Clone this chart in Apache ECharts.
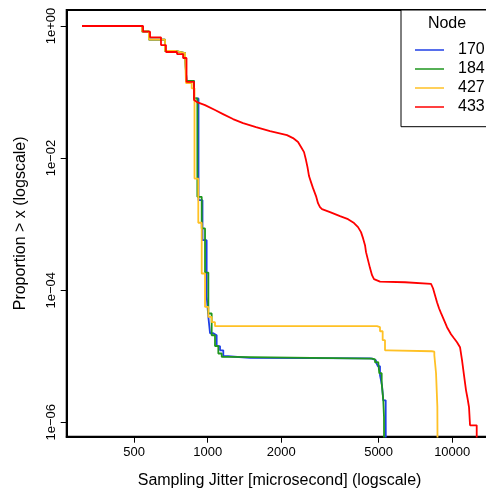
<!DOCTYPE html>
<html><head><meta charset="utf-8">
<script src="https://cdn.jsdelivr.net/npm/echarts@6/dist/echarts.min.js"></script>
<style>html,body{margin:0;padding:0;background:#fff}#c{width:486px;height:490px}</style>
</head><body><div id="c"></div>
<script>
const nodes = ['170','184','427','433'];
const colors = ['#1f3fe6','#1e961e','#ffc125','#ff0000'];
const xTicks = [500,1000,2000,5000,10000];
const yTicks = [1e-6,1e-4,1e-2,1];

const x170 = [306,539,575,669,742,808,819,879,917,952,990,1006,1022,1054,1088,1123,1158,1211,1489,4611,4699,4879,4970,5066,5162,5225,5345,5396];
const p170 = [1,0.825,0.624,0.418,0.390,0.351,0.147,0.0802,0.00231,0.000572,8.1e-5,3.94e-5,2.23e-5,2.08e-5,1.42e-5,1.23e-5,1.0e-5,9.42e-6,9.3e-6,9.2e-6,8.7e-6,8.11e-6,7.05e-6,5.15e-6,3.64e-6,2.15e-6,1.2e-6,1e-9];

const x184 = [306,539,575,669,742,808,819,879,907,945,975,1006,1038,1071,1105,1141,1234,4699,4833,4984,5031,5147,5225,5260,5284];
const p184 = [1,0.825,0.624,0.418,0.390,0.351,0.147,0.0802,0.00259,0.000861,0.000185,4.44e-5,2.08e-5,1.43e-5,1.10e-5,9.76e-6,9.23e-6,9.0e-6,8.11e-6,7.6e-6,5.53e-6,3.9e-6,2.15e-6,1.2e-6,1e-9];

const x427 = [306,539,575,669,742,808,815,860,883,915,945,975,1006,1038,1071,4924,5066,5195,5310,5462,8246,8450,8587,8694,8775];
const p427 = [1,0.825,0.624,0.418,0.390,0.351,0.137,0.1138,0.00489,0.00105,0.000179,5.58e-5,3.94e-5,3.28e-5,2.85e-5,2.75e-5,2.39e-5,1.75e-5,1.23e-5,1.19e-5,1.17e-5,1.035e-5,5.53e-6,1.71e-6,1e-9];

const x433 = [306,544,544,581,581,644,644,675,675,749,749,793,793,819,819,879,879,904,975,1071,1155,1269,1395,1576,1798,2110,2233,2341,2408,2477,2523,2559,2596,2645,2696,2773,2825,2879,2934,3164,3476,3749,3967,4119,4236,4317,4399,4441,4525,4611,4699,4788,5066,6412,8191,8345,8504,8666,8831,9000,9258,9522,9888,10171,10462,10762,10967,11176,11389,11550,11715,11826,11826,12595,12595];
const p433 = [1,1,0.820,0.820,0.674,0.674,0.515,0.515,0.404,0.404,0.376,0.376,0.328,0.328,0.143,0.143,0.0757,0.0705,0.0635,0.0534,0.0464,0.039,0.0339,0.0295,0.0256,0.0223,0.0201,0.0175,0.0147,0.0123,0.00933,0.00731,0.00534,0.00433,0.00351,0.00266,0.00208,0.00181,0.00169,0.00152,0.00132,0.00119,0.00104,0.000901,0.000757,0.000614,0.000481,0.000377,0.000285,0.000216,0.000169,0.000147,0.000135,0.000132,0.000125,0.000107,8.4e-5,6.58e-5,5.33e-5,4.49e-5,3.51e-5,2.75e-5,2.15e-5,1.87e-5,1.63e-5,1.37e-5,8.7e-6,5.15e-6,3.05e-6,2.31e-6,1.69e-6,1.69e-6,9.0e-7,9.0e-7,1e-9];

function pairs(xs, ps){ return xs.map((x,i)=>[x, ps[i]]); }
const FONT = '"Liberation Sans", Arial, Helvetica, sans-serif';
function yLab(v){ const e=Math.round(Math.log10(v)); return '1e'+(e<0?'\u2212':'+')+String(Math.abs(e)).padStart(2,'0'); }

const seriesData = [pairs(x170,p170), pairs(x184,p184), pairs(x427,p427), pairs(x433,p433)];
const steps = ['end','end','end',false];

const chart = echarts.init(document.getElementById('c'), null, {renderer:'canvas'});
chart.setOption({
  animation:false,
  backgroundColor:'#fff',
  textStyle:{fontFamily:FONT},
  grid:{left:66.7, top:10, right:-6.4, bottom:53.3, show:true, borderColor:'#000', borderWidth:2, backgroundColor:'transparent', containLabel:false, outerBoundsMode:'none'},
  xAxis:{
    type:'log', logBase:10, min:265, max:14600,
    name:'Sampling Jitter [microsecond] (logscale)', nameLocation:'middle', nameGap:36,
    nameTextStyle:{fontSize:16, color:'#000', fontFamily:FONT},
    axisLine:{show:true, lineStyle:{color:'#000', width:2}},
    axisTick:{show:true, length:6, lineStyle:{color:'#000', width:1}, customValues:xTicks},
    axisLabel:{customValues:xTicks, fontSize:13, color:'#000', margin:9, fontFamily:FONT, formatter:v=>String(Math.round(v))},
    splitLine:{show:false}, minorTick:{show:false}, minorSplitLine:{show:false}
  },
  yAxis:{
    type:'log', logBase:10, min:6.05e-7, max:1.747,
    name:'Proportion > x (logscale)', nameLocation:'middle', nameGap:38, nameRotate:90,
    nameTextStyle:{fontSize:16, color:'#000', fontFamily:FONT},
    axisLine:{show:true, lineStyle:{color:'#000', width:2}},
    axisTick:{show:true, length:6, lineStyle:{color:'#000', width:1}, customValues:yTicks},
    axisLabel:{customValues:yTicks, fontSize:13, color:'#000', margin:9, rotate:90, fontFamily:FONT, formatter:yLab},
    splitLine:{show:false}, minorTick:{show:false}, minorSplitLine:{show:false}
  },
  legend:{
    data:nodes, orient:'vertical', left:415, top:40.5, padding:0, icon:'rect',
    itemWidth:29, itemHeight:1.5, itemGap:0, selectedMode:false, z:6,
    textStyle:{fontSize:16, lineHeight:19, color:'#000', padding:[0,0,0,9], fontFamily:FONT}
  },
  graphic:[
    {type:'rect', z:5, shape:{x:401, y:10, width:200, height:116.7}, style:{fill:'#fff', stroke:'#000', lineWidth:1}},
    {type:'text', z:7, x:447, y:24, style:{text:'Node', font:'16px '+FONT, fill:'#000', align:'center', verticalAlign:'middle'}}
  ],
  series: nodes.map((n,i)=>({
    name:n, type:'line', data:seriesData[i], step:steps[i],
    showSymbol:false, symbol:'none', color:colors[i], clip:true, z:2+i*0.1,
    lineStyle:{width:1.8, color:colors[i]}
  }))
});
</script></body></html>
